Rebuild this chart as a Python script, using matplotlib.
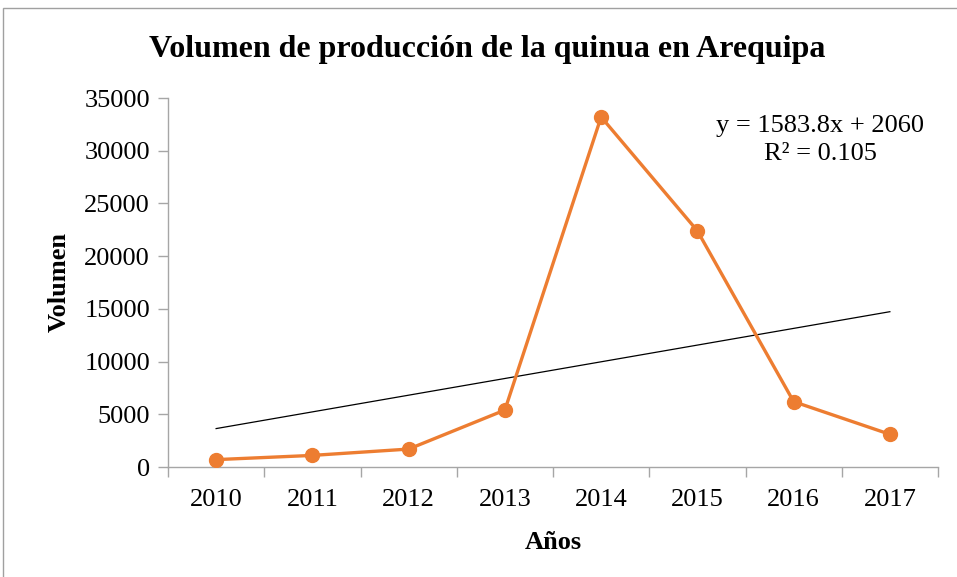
import numpy as np
import matplotlib
matplotlib.use('Agg')
import matplotlib.pyplot as plt
from matplotlib.patches import Rectangle

plt.rcParams['font.family'] = ['Liberation Serif', 'DejaVu Serif']

# Data
years = ['2010', '2011', '2012', '2013', '2014', '2015', '2016', '2017']
volumen = [700, 1100, 1700, 5400, 33200, 22400, 6200, 3100]

# Linear trend shown in the chart (x = 1..8)
slope = 1583.8
intercept = 2060
r2 = 0.105

fig = plt.figure(figsize=(9.57, 5.77), dpi=100)
ax = fig.add_axes([168 / 957, 1 - 467 / 577, (938 - 168) / 957, (467 - 98) / 577])

x = np.arange(1, len(years) + 1)
ax.plot(x, volumen, color='#ED7D31', linewidth=2.4, marker='o', markersize=10,
        zorder=3)

trend = slope * x + intercept
ax.plot([x[0], x[-1]], [trend[0], trend[-1]], color='black', linewidth=0.9,
        zorder=2)

ax.set_xlim(0.5, len(years) + 0.5)
ax.set_ylim(0, 35000)
ax.set_yticks(range(0, 35001, 5000))

# Category labels centred, ticks on category boundaries
ax.set_xticks(x)
ax.set_xticklabels(years)
ax.set_xticks(np.arange(0.5, len(years) + 1), minor=True)
ax.tick_params(axis='x', which='major', length=0, pad=16, labelsize=19)
ax.tick_params(axis='x', which='minor', length=7, color='#a6a6a6', width=1)
ax.tick_params(axis='y', length=7, color='#a6a6a6', width=1, pad=6,
               labelsize=19)

for side in ['top', 'right']:
    ax.spines[side].set_visible(False)
for side in ['left', 'bottom']:
    ax.spines[side].set_color('#a6a6a6')
    ax.spines[side].set_linewidth(1)

ax.set_xlabel('Años', fontsize=19, fontweight='bold', labelpad=14)
ax.set_ylabel('Volumen', fontsize=19, fontweight='bold', labelpad=10)

fig.text(487 / 957, 1 - 49 / 577, 'Volumen de producción de la quinua en Arequipa',
         ha='center', va='center', fontsize=23, fontweight='bold')

ax.text(0.847, 0.955, f'y = {slope}x + {intercept}\nR² = {r2}',
        transform=ax.transAxes, ha='center', va='top', fontsize=19,
        linespacing=1.35)

# Chart border
fig.patches.append(Rectangle((3 / 957, -0.01), 1, 1 - 8 / 577 + 0.01,
                             transform=fig.transFigure, fill=False,
                             edgecolor='#a0a0a0', linewidth=1))

fig.savefig('out.png', dpi=100)
